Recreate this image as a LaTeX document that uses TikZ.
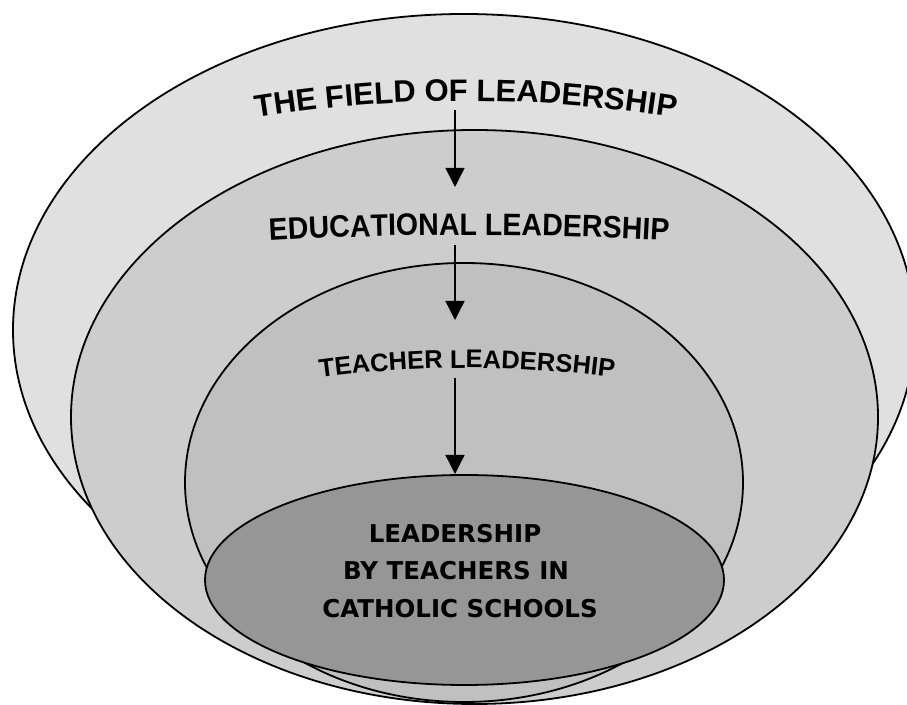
\documentclass[tikz,border=0pt]{standalone}
\usepackage{fontspec}
\setmainfont{Liberation Sans}
\newfontfamily\archfont{Liberation Sans}
\newfontfamily\archnarrow[FakeStretch=0.92]{Liberation Sans}
\newfontfamily\innerfont{DejaVu Sans}
\usetikzlibrary{decorations.text, arrows.meta, shapes.geometric}
\definecolor{fieldgray}{HTML}{E0E0E0}
\definecolor{edugray}{HTML}{CDCDCD}
\definecolor{teachgray}{HTML}{C0C0C0}
\definecolor{innergray}{HTML}{969696}
\tikzset{
  ring/.style={ellipse, draw=black, line width=1.8pt, inner sep=0pt},
  flowarrow/.style={line width=1.4pt, -{Triangle[length=19pt,width=19pt]}},
  innertext/.style={anchor=base, inner sep=0pt, font=\innerfont\bfseries\fontsize{24.5}{30}\selectfont}
}
\begin{document}
\begin{tikzpicture}[x=1pt,y=1pt]
\useasboundingbox (0,0) rectangle (907,704);
\clip (0,0) rectangle (907,704);
\fill[white] (0,0) rectangle (907,704);
% rings
\node[ring, fill=fieldgray, minimum width=902pt, minimum height=632pt] (e1) at (464,374) {};
\node[ring, fill=edugray, minimum width=807pt, minimum height=574pt] (e2) at (474.5,287) {};
\node[ring, fill=teachgray, minimum width=558pt, minimum height=439pt] (e3) at (464,221.5) {};
\node[ring, fill=innergray, minimum width=519pt, minimum height=210pt] (e4) at (464.5,124) {};
% arched titles
\path[decorate, decoration={text along path, text align=center,
  text={|\archfont\bfseries\fontsize{31}{31}\selectfont|THE FIELD OF LEADERSHIP}}]
  (466,-715) ++(104:1318) arc[start angle=104, end angle=76, radius=1318];
\path[decorate, decoration={text along path, text align=center,
  text={|\archnarrow\bfseries\fontsize{31}{31}\selectfont|EDUCATIONAL LEADERSHIP}}]
  (469,-2901) ++(96:3370) arc[start angle=96, end angle=84, radius=3370];
\path[decorate, decoration={text along path, text align=center,
  text={|\archfont\bfseries\fontsize{25.5}{25.5}\selectfont|TEACHER LEADERSHIP}}]
  (467,-764) ++(102:1100) arc[start angle=102, end angle=78, radius=1100];
% inner text
\node[innertext] (t4a) at (455,161) {LEADERSHIP};
\node[innertext] (t4b) at (456,124) {BY TEACHERS IN};
\node[innertext] (t4c) at (460,87) {CATHOLIC SCHOOLS};
% arrows
\coordinate (a1s) at (455,594);
\coordinate (a1e) at (455,517);
\coordinate (a2s) at (455,459);
\coordinate (a2e) at (455,384);
\coordinate (a3s) at (455,326);
\coordinate (a3e) at (455,230);
\draw[flowarrow] (a1s) -- (a1e);
\draw[flowarrow] (a2s) -- (a2e);
\draw[flowarrow] (a3s) -- (a3e);
\end{tikzpicture}
\end{document}
